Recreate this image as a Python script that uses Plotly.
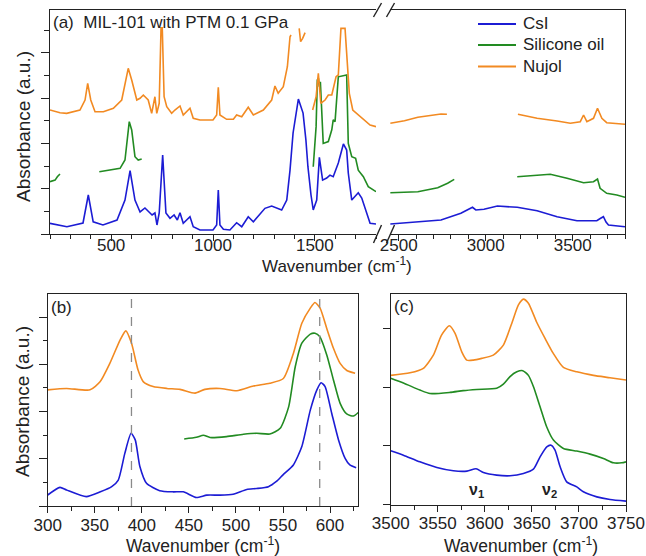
import plotly.graph_objects as go

W, H = 646, 556
FONT = "Liberation Sans, Arial, sans-serif"
TXT = "#222222"
BLUE, GREEN, ORANGE = "#1c1cd4", "#228b22", "#f28a22"

# ---------------- Panel (a): broken wavenumber axis ----------------
# left segment (200-1800 cm-1)
csi_a_left_wn = [200, 283, 362, 388, 412, 460, 529, 568, 593, 617, 642, 666, 701, 715, 725, 736, 753, 769, 789,
                 809, 825, 838, 854, 887, 903, 936, 1000, 1018, 1026, 1034, 1051, 1083, 1116, 1141, 1173, 1198,
                 1255, 1288, 1337, 1362, 1378, 1393, 1419, 1442, 1456, 1466, 1481, 1492, 1509, 1522, 1538, 1558,
                 1574, 1590, 1615, 1640, 1656, 1664, 1681, 1697, 1713, 1730, 1746, 1771, 1800]
csi_a_left_ab = [0.236, 0.161, 0.243, 0.861, 0.27, 0.199, 0.309, 0.75, 1.40, 0.75, 0.486, 0.574, 0.42, 0.464,
                 0.199, 0.464, 1.744, 0.464, 0.347, 0.42, 0.309, 0.47, 0.236, 0.382, 0.161, 0.088, 0.088, 0.199,
                 0.971, 0.199, 0.104, 0.088, 0.249, 0.161, 0.382, 0.27, 0.567, 0.618, 0.53, 0.75, 1.41, 2.23,
                 2.98, 2.67, 2.075, 1.48, 0.861, 0.53, 0.75, 1.693, 1.19, 1.236, 1.30, 1.265, 1.567, 1.987, 1.854,
                 1.347, 0.75, 0.839, 0.912, 0.795, 0.574, 0.236, 0.221]

sil_a_left_wn = [200, 225, 236, 249, None,
                 442, 494, 544, 568, 581, 589, 601, 617, 633, 650, None,
                 1492, 1506, 1512, 1517, 1522, 1527, 1541, 1566, 1583, 1590, 1599, 1607, 1615, 1656, 1664, 1681,
                 1700, 1713, 1738, 1762, 1787, 1800]
sil_a_left_ab = [1.155, 1.19, 1.265, 1.325, None,
                 1.375, 1.413, 1.45, 1.634, 2.23, 2.479, 2.296, 1.706, 1.634, 1.656, None,
                 1.486, 2.37, 3.40, 3.44, 3.25, 3.36, 2.00, 2.04, 2.30, 2.52, 2.48, 2.96, 3.47, 3.51, 2.00, 1.706,
                 1.67, 1.41, 1.265, 1.044, 0.971, 0.934]

nuj_a_left_wn = [200, 249, 282, 347, 372, 385, 400, 421, 462, 511, 552, 568, 584, 601, 626, 642, 658, 682, 699,
                 715, 724, 736, 745, 751, 760, 773, 797, 813, 828, 838, 854, 871, 887, 903, 936, 1000, 1018, 1026,
                 1034, 1067, 1100, 1116, 1141, 1173, 1198, 1247, 1288, 1304, 1320, 1345, 1365, 1378, 1383, None,
                 1423, 1430, 1440, 1452, None,
                 1489, 1506, 1517, 1529, 1550, 1566, 1583, 1594, 1604, 1615, 1623, 1628, 1648, 1656, 1669, 1686,
                 1705, 1738, 1771, 1800]
nuj_a_left_ab = [2.737, 2.678, 2.664, 2.737, 2.958, 3.327, 2.958, 2.70, 2.70, 2.775, 2.958, 3.327, 3.658, 3.40,
                 2.958, 2.996, 3.068, 2.958, 2.664, 3.03, 2.664, 2.885, 4.55, 4.55, 3.03, 2.81, 2.664, 2.737, 2.80,
                 2.826, 2.627, 2.693, 2.775, 2.554, 2.517, 2.517, 2.627, 3.238, 2.627, 2.532, 2.532, 2.627, 2.589,
                 2.797, 2.627, 2.737, 2.958, 3.267, 3.106, 3.25, 3.693, 4.355, 4.393, None,
                 4.54, 4.245, 4.32, 4.444, None,
                 2.737, 3.03, 3.547, 2.885, 2.958, 3.068, 3.068, 3.289, 3.472, 3.51, 4.062, 4.54, 4.54, 3.989,
                 3.106, 2.737, 2.664, 2.517, 2.406, 2.369]

# right segment (2450-3800 cm-1)
csi_a_right_wn = [2452, 2610, 2743, 2857, 2903, 2924, 2943, 2990, 3067, 3181, 3295, 3410, 3524, 3638, 3660,
                  3676, 3691, 3705, 3800]
csi_a_right_ab = [0.221, 0.27, 0.309, 0.457, 0.545, 0.589, 0.53, 0.545, 0.618, 0.589, 0.514, 0.382, 0.294,
                  0.294, 0.347, 0.382, 0.265, 0.199, 0.161]
sil_a_right_wn = [2452, 2610, 2724, 2781, 2819, None,
                  3181, 3295, 3371, 3467, 3562, 3619, 3642, 3657, 3695, 3753, 3771, 3800]
sil_a_right_ab = [0.912, 0.934, 1.022, 1.12, 1.207, None,
                  1.265, 1.30, 1.318, 1.23, 1.132, 1.155, 1.214, 1.009, 0.898, 0.861, 0.839, 0.81]
nuj_a_right_wn = [2452, 2533, 2610, 2705, 2743, 2777, None,
                  3185, 3295, 3410, 3486, 3543, 3562, 3581, 3619, 3642, 3667, 3695, 3800]
nuj_a_right_ab = [2.444, 2.50, 2.576, 2.627, 2.649, 2.642, None,
                  2.642, 2.554, 2.494, 2.444, 2.479, 2.627, 2.479, 2.554, 2.775, 2.554, 2.457, 2.422]

# ---------------- Panel (b): 300-630 cm-1 ----------------
csi_b_wn = [300, 313, 320, 341, 356, 368, 375, 382, 388.6, 393, 398, 405, 419, 433.5, 444, 458, 469, 483, 497,
            511.5, 522, 534.5, 543, 550, 561, 570, 579, 586, 590.5, 594.7, 601.8, 609, 616, 621, 627.7]
csi_b_ab = [0.233, 0.395, 0.34, 0.198, 0.30, 0.41, 0.55, 1.12, 1.54, 1.40, 0.83, 0.48, 0.325, 0.30, 0.30, 0.18,
            0.23, 0.23, 0.25, 0.35, 0.37, 0.41, 0.52, 0.66, 0.87, 1.26, 2.03, 2.46, 2.61, 2.53, 1.96, 1.40, 1.01,
            0.87, 0.81]
sil_b_wn = [445, 458, 465.4, 472.5, 490, 508, 522, 536, 547, 556, 563, 570, 579, 584, 589, 596.5, 603.6, 610.7,
            617.7, 624.8, 630]
sil_b_ab = [1.42, 1.455, 1.50, 1.45, 1.47, 1.52, 1.54, 1.525, 1.645, 2.10, 2.95, 3.45, 3.64, 3.66, 3.59, 3.20,
            2.67, 2.175, 1.95, 1.905, 1.98]
nuj_b_wn = [300, 320, 345, 355.6, 366, 377, 383, 389, 396, 401.7, 412, 426.5, 440.6, 456.6, 467, 483, 501, 518.6,
            536, 550.4, 561, 570, 579, 584, 589.4, 596.5, 603.6, 610.7, 617.8, 626.6]
nuj_b_ab = [2.46, 2.49, 2.46, 2.63, 3.02, 3.52, 3.71, 3.45, 2.88, 2.63, 2.53, 2.49, 2.47, 2.39, 2.47, 2.49, 2.44,
            2.54, 2.60, 2.70, 3.23, 3.87, 4.19, 4.31, 4.19, 3.76, 3.34, 3.02, 2.87, 2.81]
b_marker_wn = [389, 589]

# ---------------- Panel (c): 3500-3750 cm-1 ----------------
csi_c_wn = [3500, 3513.5, 3531, 3549, 3566.6, 3581, 3590.7, 3598.5, 3612.6, 3626.8, 3641, 3651.6, 3658.7, 3665.8,
            3670.4, 3674.6, 3680, 3687, 3697.7, 3704.7, 3719, 3733, 3750]
csi_c_ab = [0.915, 0.84, 0.727, 0.63, 0.574, 0.568, 0.608, 0.545, 0.50, 0.489, 0.528, 0.602, 0.8125, 0.983, 1.01,
            0.926, 0.642, 0.386, 0.30, 0.216, 0.13, 0.085, 0.057]
sil_c_wn = [3500, 3513.5, 3531, 3541.8, 3563, 3577, 3591.4, 3612.6, 3619.7, 3626.8, 3634, 3640.3, 3646.3, 3651.6,
            3658.7, 3665.8, 3672.9, 3683.5, 3697.7, 3711.8, 3726, 3736.6, 3745.5, 3750]
sil_c_ab = [2.15, 2.07, 1.95, 1.89, 1.91, 1.94, 1.96, 1.98, 2.05, 2.18, 2.26, 2.28, 2.20, 2.01, 1.665, 1.32,
            1.097, 0.955, 0.91, 0.858, 0.784, 0.71, 0.71, 0.727]
nuj_c_wn = [3500, 3520.5, 3534.7, 3545.3, 3554, 3562.3, 3568.4, 3575.5, 3580.8, 3587.8, 3596.7, 3609, 3619.7,
            3628.6, 3635.7, 3641, 3646.3, 3655, 3664, 3672.9, 3683.5, 3697.7, 3715.4, 3733, 3750]
nuj_c_ab = [2.20, 2.244, 2.32, 2.545, 2.886, 3.045, 2.915, 2.60, 2.46, 2.46, 2.49, 2.545, 2.716, 3.085, 3.40,
            3.50, 3.43, 3.11, 2.83, 2.57, 2.335, 2.26, 2.20, 2.16, 2.12]
nu_labels = ["ν<sub>1</sub>", "ν<sub>2</sub>"]
nu_wn = [3591, 3669]

series_names = ["CsI", "Silicone oil", "Nujol"]
colors = [BLUE, GREEN, ORANGE]


def px_x(p):
    return p / W


def px_y(p):
    return 1 - p / H


fig = go.Figure()
LW = 1.6

panel_a_left = [(csi_a_left_wn, csi_a_left_ab), (sil_a_left_wn, sil_a_left_ab), (nuj_a_left_wn, nuj_a_left_ab)]
panel_a_right = [(csi_a_right_wn, csi_a_right_ab), (sil_a_right_wn, sil_a_right_ab),
                 (nuj_a_right_wn, nuj_a_right_ab)]
panel_b = [(csi_b_wn, csi_b_ab), (sil_b_wn, sil_b_ab), (nuj_b_wn, nuj_b_ab)]
panel_c = [(csi_c_wn, csi_c_ab), (sil_c_wn, sil_c_ab), (nuj_c_wn, nuj_c_ab)]

for i, (name, col) in enumerate(zip(series_names, colors)):
    for (xs, ys), xa, ya, shp in [(panel_a_left[i], "x", "y", "linear"), (panel_a_right[i], "x2", "y2", "linear"),
                                  (panel_b[i], "x3", "y3", "spline"), (panel_c[i], "x4", "y4", "spline")]:
        ln = dict(color=col, width=LW, shape=shp)
        if shp == "spline":
            ln["smoothing"] = 0.6
        fig.add_trace(go.Scatter(x=xs, y=ys, mode="lines", name=name, line=ln,
                                 xaxis=xa, yaxis=ya, showlegend=False, legendgroup=name, connectgaps=False))


def axis_common(tsize):
    return dict(showline=True, linecolor=TXT, linewidth=1.3, ticks="outside", tickcolor=TXT, tickwidth=1.2,
                showgrid=False, zeroline=False, tickfont=dict(family=FONT, size=tsize, color=TXT),
                automargin=False, ticklabeloverflow="allow")


def minor(dt, ln):
    return dict(dtick=dt, tick0=0, ticklen=ln, ticks="outside", tickcolor=TXT, showgrid=False)


a_top, a_bot = 10, 234
fig.update_layout(
    xaxis=dict(axis_common(17), domain=[px_x(50), px_x(376)], range=[200, 1800], anchor="y", mirror=True,
               tickmode="linear", tick0=0, dtick=500, ticklen=6, ticklabelstandoff=-11, minor=minor(100, 4)),
    xaxis2=dict(axis_common(17), domain=[px_x(390), px_x(625)], range=[2450, 3800], anchor="y2", mirror=True,
                tickmode="linear", tick0=0, dtick=500, ticklen=6, ticklabelstandoff=-11, minor=minor(100, 4)),
    yaxis=dict(axis_common(17), domain=[px_y(a_bot), px_y(a_top)], range=[0, 4.945], anchor="x",
               showticklabels=False, tickmode="linear", tick0=0, dtick=1, ticklen=8, minor=minor(0.5, 5)),
    yaxis2=dict(showline=True, linecolor=TXT, linewidth=1.3, showgrid=False, zeroline=False,
                domain=[px_y(a_bot), px_y(a_top)], range=[0, 4.945], anchor="x2", side="right",
                showticklabels=False, ticks="", automargin=False),
    xaxis3=dict(axis_common(17), domain=[px_x(47.7), px_x(358.3)], range=[300, 630], anchor="y3", mirror=True,
                tickmode="linear", tick0=0, dtick=50, ticklen=6, ticklabelstandoff=-3, minor=minor(25, 4)),
    yaxis3=dict(axis_common(17), domain=[px_y(506), px_y(294)], range=[0, 4.49], anchor="x3", mirror=True,
                showticklabels=False, tickmode="linear", tick0=0, dtick=1, ticklen=8, minor=minor(0.5, 4)),
    xaxis4=dict(axis_common(17), domain=[px_x(390.7), px_x(626)], range=[3500, 3750], anchor="y4",
                mirror=True, tickmode="linear", tick0=0, dtick=50, ticklen=6, ticklabelstandoff=-3,
                minor=minor(25, 4)),
    yaxis4=dict(axis_common(17), domain=[px_y(504.5), px_y(293.5)], range=[0, 3.595], anchor="x4",
                mirror=True, showticklabels=False, tickmode="linear", tick0=0, dtick=1, ticklen=7),
)

shapes = []
for wn in b_marker_wn:
    shapes.append(dict(type="line", xref="x3", yref="y3 domain", x0=wn, x1=wn, y0=0, y1=1,
                       line=dict(color="#8a8a8a", width=1.3, dash="dash")))


def seg(x0, y0, x1, y1, color=TXT, width=1.4):
    return dict(type="line", xref="paper", yref="paper", x0=px_x(x0), y0=px_y(y0), x1=px_x(x1), y1=px_y(y1),
                line=dict(color=color, width=width))


# axis-break marks
for cy, half in [(a_bot, 9), (a_top, 7)]:
    shapes.append(seg(373.5, cy + half, 381.5, cy - half))
    shapes.append(seg(386.5, cy + half, 394.5, cy - half))

annotations = []


def label(text, x, y, size, xanchor="center", angle=0):
    annotations.append(dict(text=text, xref="paper", yref="paper", x=px_x(x), y=px_y(y), xanchor=xanchor,
                            yanchor="middle", showarrow=False, textangle=angle,
                            font=dict(family=FONT, size=size, color=TXT)))


# legend (drawn in panel a)
legend_rows = [24, 45, 66.5]
for name, col, ry in zip(series_names, colors, legend_rows):
    shapes.append(seg(478, ry, 516, ry, color=col, width=1.8))
    label(name, 521, ry, 17, xanchor="left")

label("(a)  MIL-101 with PTM 0.1 GPa", 51, 23, 17, xanchor="left")
label("(b)", 49, 307, 17, xanchor="left")
label("(c)", 392, 306, 17, xanchor="left")
label("Wavenumber (cm<sup>-1</sup>)", 337, 265, 17)
label("Wavenumber (cm<sup>-1</sup>)", 203, 545, 17.5)
label("Wavenumber (cm<sup>-1</sup>)", 521, 545, 17.5)
label("Absorbance (a.u.)", 23, 127, 19, angle=-90)
label("Absorbance (a.u.)", 23, 402, 19, angle=-90)

for t, wn in zip(nu_labels, nu_wn):
    annotations.append(dict(text="<b>%s</b>" % t, xref="x4", yref="paper", x=wn, y=px_y(490), showarrow=False,
                            xanchor="center", yanchor="middle", font=dict(family=FONT, size=16, color=TXT)))

fig.update_layout(
    width=W, height=H, margin=dict(l=0, r=0, t=0, b=0), paper_bgcolor="white", plot_bgcolor="white",
    shapes=shapes, annotations=annotations, showlegend=False,
    font=dict(family=FONT, color=TXT),
)

fig.write_html("out.html", config={"displayModeBar": False},
               post_script="document.body.style.margin='0';document.body.style.overflow='hidden';")
